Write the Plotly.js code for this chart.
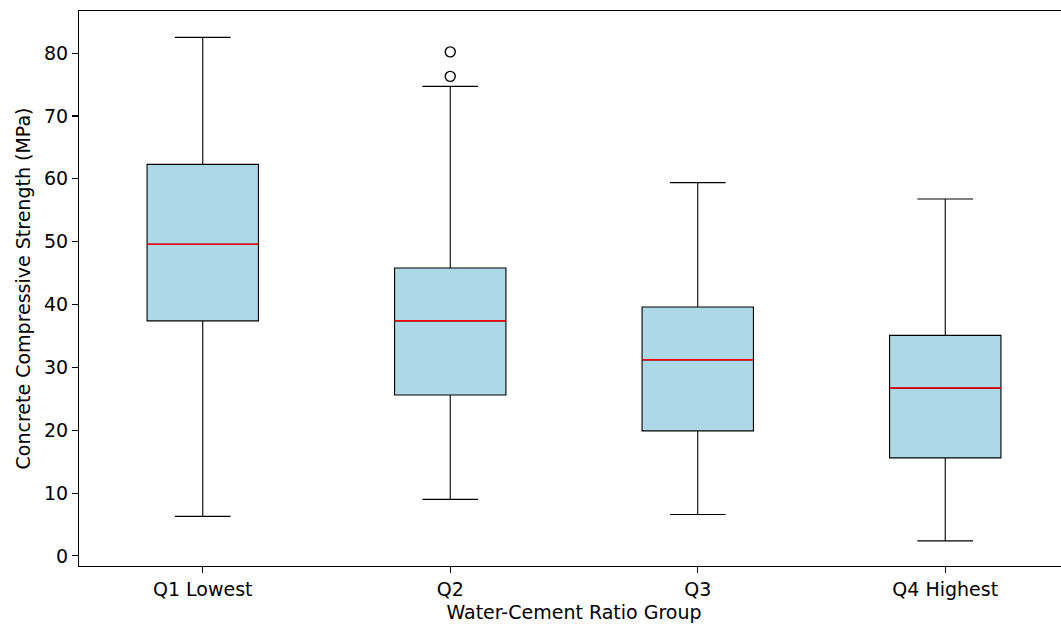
<!DOCTYPE html>
<html>
<head>
<meta charset="utf-8">
<script src="https://cdn.plot.ly/plotly-3.0.1.min.js"></script>
<style>
html, body { margin: 0; padding: 0; overflow: hidden; background: #fff; width: 1061px; height: 626px; }
#chart { width: 1080px; height: 626px; }
</style>
</head>
<body>
<div id="chart"></div>
<script>
const categories = ["Q1 Lowest", "Q2", "Q3", "Q4 Highest"];
const lowerWhisker = [6.3, 9.0, 6.6, 2.4];
const q1Values = [37.4, 25.6, 19.9, 15.6];
const medianValues = [49.6, 37.4, 31.2, 26.7];
const q3Values = [62.3, 45.8, 39.6, 35.1];
const upperWhisker = [82.5, 74.7, 59.4, 56.8];
const outlierGroup = ["Q2", "Q2"];
const outlierValues = [80.2, 76.3];
const yTickValues = [0, 10, 20, 30, 40, 50, 60, 70, 80];

const idx = categories.map((_, i) => i);
const boxWidth = 0.45;

const boxTrace = {
  type: "box",
  x: idx,
  q1: q1Values,
  median: medianValues,
  q3: q3Values,
  lowerfence: lowerWhisker,
  upperfence: upperWhisker,
  width: boxWidth,
  whiskerwidth: 0.5,
  fillcolor: "#ADD8E6",
  line: { color: "#000000", width: 1.1 },
  boxpoints: false,
  hoverinfo: "skip",
  showlegend: false
};

const medX = [], medY = [];
idx.forEach((i, k) => {
  medX.push(i - boxWidth / 2, i + boxWidth / 2, null);
  medY.push(medianValues[k], medianValues[k], null);
});
const medianTrace = {
  type: "scatter", mode: "lines", x: medX, y: medY,
  line: { color: "#FF0000", width: 1.5 },
  hoverinfo: "skip", showlegend: false
};

const outlierTrace = {
  type: "scatter", mode: "markers",
  x: outlierGroup.map(g => categories.indexOf(g)),
  y: outlierValues,
  marker: { symbol: "circle-open", size: 10, color: "#000000", line: { width: 1.4, color: "#000000" } },
  hoverinfo: "skip", showlegend: false
};

const font = { family: "DejaVu Sans, sans-serif", size: 19, color: "#000" };

const layout = {
  width: 1080, height: 626,
  margin: { l: 79, r: 11, t: 11, b: 60 },
  paper_bgcolor: "#fff", plot_bgcolor: "#fff",
  showlegend: false,
  hovermode: false,
  font: font,
  xaxis: {
    type: "linear",
    range: [-0.5, 3.5],
    tickvals: idx, ticktext: categories,
    ticks: "outside", ticklen: 6, tickwidth: 1.1, tickcolor: "#000",
    showline: true, linecolor: "#000", linewidth: 1.1, mirror: true,
    showgrid: false, zeroline: false,
    tickfont: font,
    title: { text: "Water-Cement Ratio Group", font: font, standoff: 6 }
  },
  yaxis: {
    range: [-1.6, 86.7],
    tickvals: yTickValues,
    ticks: "outside", ticklen: 6, tickwidth: 1.1, tickcolor: "#000",
    showline: true, linecolor: "#000", linewidth: 1.1, mirror: true,
    showgrid: false, zeroline: false,
    tickfont: font,
    title: { text: "Concrete Compressive Strength (MPa)", font: font, standoff: 8 }
  }
};

Plotly.newPlot("chart", [boxTrace, medianTrace, outlierTrace], layout, { displayModeBar: false, staticPlot: true });
</script>
</body>
</html>
